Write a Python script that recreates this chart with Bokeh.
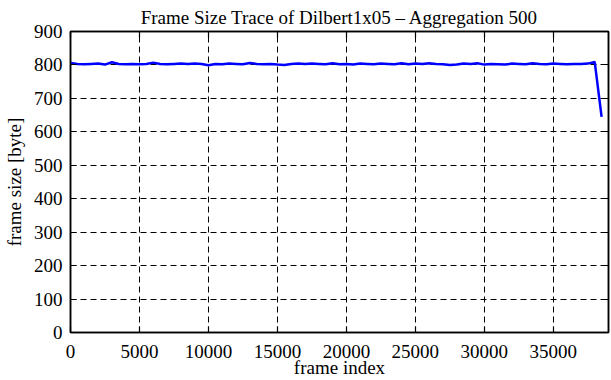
from bokeh.plotting import figure
from bokeh.models import Range1d, LinearAxis, FixedTicker
from bokeh.embed import file_html
from bokeh.resources import INLINE

frame_index = list(range(0, 39000, 500))
frame_size = [806, 803, 802, 803, 804, 801, 808, 803, 802, 803,
              802, 803, 807, 803, 802, 803, 804, 803, 804, 803,
              799, 803, 802, 804, 803, 802, 806, 803, 802, 803,
              801, 800, 803, 804, 803, 804, 803, 802, 805, 802,
              803, 801, 804, 803, 802, 804, 803, 802, 805, 802,
              804, 803, 805, 803, 802, 800, 801, 804, 803, 805,
              801, 803, 802, 801, 804, 803, 802, 805, 803, 802,
              804, 803, 802, 803, 803, 804, 809, 645]
x_ticks = [0, 5000, 10000, 15000, 20000, 25000, 30000, 35000]
y_ticks = [0, 100, 200, 300, 400, 500, 600, 700, 800, 900]

FONT = "Liberation Serif"

p = figure(width=611, height=380, output_backend="svg", toolbar_location=None,
           x_range=Range1d(0, 39000), y_range=Range1d(0, 900),
           min_border_left=70, min_border_right=3, min_border_top=0, min_border_bottom=9,
           title="Frame Size Trace of Dilbert1x05 \u2013 Aggregation 500")
p.title.align = "center"
p.title.text_font = FONT
p.title.text_font_style = "normal"
p.title.text_font_size = "19px"
p.title.text_color = "black"
p.title.standoff = 8

p.line(frame_index, frame_size, line_color="#0000ff", line_width=2.5)

p.outline_line_color = "black"
p.outline_line_width = 1.5

for ax, ticks in ((p.xaxis[0], x_ticks), (p.yaxis[0], y_ticks)):
    ax.ticker = FixedTicker(ticks=ticks)
    ax.major_tick_in = 6
    ax.major_tick_out = 0
    ax.minor_tick_line_color = None
    ax.axis_line_width = 1.5
    ax.major_tick_line_width = 1.2
    ax.major_label_text_font = FONT
    ax.major_label_text_font_size = "19px"
    ax.major_label_text_color = "black"
    ax.axis_label_text_font = FONT
    ax.axis_label_text_font_size = "19px"
    ax.axis_label_text_font_style = "normal"
    ax.axis_label_text_color = "black"

p.xaxis[0].axis_label = "frame index"
p.yaxis[0].axis_label = "frame size [byte]"
p.xaxis[0].major_label_standoff = 12
p.yaxis[0].major_label_standoff = 8
p.xaxis[0].axis_label_standoff = -4
p.yaxis[0].axis_label_standoff = 6
p.yaxis[0].major_label_orientation = "horizontal"

for loc, ticks in (("above", x_ticks), ("right", y_ticks)):
    ax = LinearAxis(ticker=FixedTicker(ticks=ticks))
    ax.major_tick_in = 6
    ax.major_tick_out = 0
    ax.minor_tick_line_color = None
    ax.major_label_text_font_size = "0px"
    ax.major_label_text_color = None
    ax.axis_line_width = 1.5
    ax.major_tick_line_width = 1.2
    ax.major_label_standoff = 0
    p.add_layout(ax, loc)

p.xgrid.ticker = FixedTicker(ticks=x_ticks[1:])
p.ygrid.ticker = FixedTicker(ticks=y_ticks[1:-1])
for g in (p.xgrid[0], p.ygrid[0]):
    g.grid_line_color = "black"
    g.grid_line_dash = "6 4"
    g.grid_line_width = 1

open("out.html", "w").write(file_html(p, INLINE))
